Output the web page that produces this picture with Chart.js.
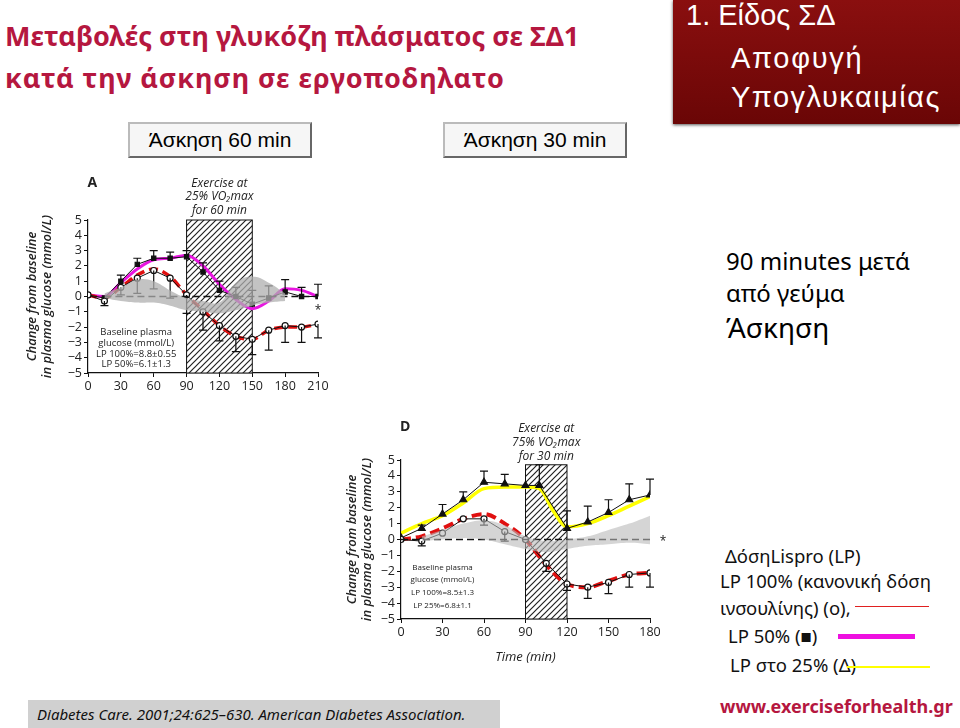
<!DOCTYPE html>
<html>
<head>
<meta charset="utf-8">
<script src="https://cdn.jsdelivr.net/npm/chart.js@4.4.1/dist/chart.umd.min.js"></script>
<style>
  body { margin:0; width:960px; height:728px; position:relative; background:#fff; overflow:hidden; font-family:"Noto Sans", sans-serif; }
  .t { position:absolute; white-space:nowrap; line-height:1; }
  .title { color:#b5173f; font-weight:bold; font-size:27px; left:5px; }
  .btn { position:absolute; top:122px; width:180px; height:32px; border:2px outset #bbb; background:#f6f6f6;
         font-family:"Liberation Sans", Arial, sans-serif; font-size:21px; display:flex; align-items:center; justify-content:center; }
  .redbox { position:absolute; left:673px; top:0; width:287px; height:124px; background:linear-gradient(#8a0f0f,#6a0606); box-shadow:0 1px 3px #555; }
  .rb { color:#fff; font-family:"Liberation Sans", Arial, sans-serif; font-size:29px; }
  .leg { font-size:18.5px; color:#111; }
  .box { position:absolute; }
</style>
</head>
<body>
<div class="t title" style="top:22px">Μεταβολές στη γλυκόζη πλάσματος σε ΣΔ1</div>
<div class="t title" style="top:64px; letter-spacing:0.9px">κατά την άσκηση σε εργοποδηλατο</div>
<div class="btn" style="left:128px">Άσκηση 60 min</div>
<div class="btn" style="left:443px">Άσκηση 30 min</div>
<div class="redbox"></div>
<div class="t rb" style="left:686px; top:1px">1. Είδος ΣΔ</div>
<div class="t rb" style="left:731px; top:44px; letter-spacing:1.7px">Αποφυγή</div>
<div class="t rb" style="left:731px; top:83px; letter-spacing:1.5px">Υπογλυκαιμίας</div>
<div class="t" style="left:726px; top:249px; font-size:24px">90 minutes μετά</div>
<div class="t" style="left:726px; top:281px; font-size:24px">από γεύμα</div>
<div class="t" style="left:726px; top:313px; font-size:28px">Άσκηση</div>

<div class="t leg" style="left:725px; top:547px">ΔόσηLispro (LP)</div>
<div class="t leg" style="left:720px; top:572px">LP 100% (κανονική δόση</div>
<div class="t leg" style="left:720px; top:599px">ινσουλίνης) (ο),</div>
<div class="box" style="left:855px; top:606px; width:74px; height:1px; background:#e02020"></div>
<div class="t leg" style="left:728px; top:627px">LP 50% (■)</div>
<div class="box" style="left:838px; top:634px; width:77px; height:5px; background:#ee10e0"></div>
<div class="t leg" style="left:730px; top:656px">LP στο 25% (Δ)</div>
<div class="box" style="left:847px; top:666px; width:83px; height:2px; background:#ffff00"></div>
<div class="t" style="left:720px; top:697px; font-size:18px; font-weight:bold; color:#b5173f">www.exerciseforhealth.gr</div>

<div class="box" style="left:28px; top:700px; width:472px; height:28px; background:#d0d0d0"></div>
<div class="t" style="left:37px; top:707px; font-size:15px; font-style:italic; color:#111">Diabetes Care. 2001;24:625–630. American Diabetes Association.</div>

<div class="box" style="left:20px; top:170px; width:320px; height:235px"><canvas id="chartA"></canvas></div>
<div class="box" style="left:340px; top:410px; width:330px; height:260px"><canvas id="chartD"></canvas></div>

<script>
// ---- panel A: exercise 25% VO2max for 60 min ----
var timesA = [0, 15, 30, 45, 60, 75, 90, 105, 120, 135, 150, 165, 180, 195, 210];
var lp100A = [0.1, -0.3, 0.6, 1.2, 1.7, 1.2, 0.1, -1.0, -1.9, -2.6, -2.8, -2.2, -1.9, -2.0, -1.8];
var lp100AErr = [0, 0.3, 0.5, 1.0, 1.2, 1.3, 1.2, 1.2, 1.0, 1.0, 1.0, 1.3, 1.1, 1.0, 0.9];
var lp100ACurve = [0.1, -0.1, 0.6, 1.4, 1.8, 1.3, 0.1, -0.9, -1.9, -2.6, -2.8, -2.2, -2.0, -2.0, -1.8];
var lp50A = [0.1, -0.1, 1.0, 2.1, 2.5, 2.5, 2.6, 1.6, 0.4, 0.0, -0.5, -0.1, 0.3, 0.0, 0.0];
var lp50AErr = [0, 0, 0.4, 0.4, 0.5, 0.4, 0.4, 0.6, 0.6, 0.6, 0.9, 0.8, 0.8, 0.6, 0.8];
var lp50ACurve = [0.1, 0.0, 0.9, 1.8, 2.4, 2.5, 2.7, 2.0, 0.8, -0.2, -0.8, -0.3, 0.5, 0.4, 0.0];
var bandTimesA = [15, 30, 45, 60, 75, 90, 105, 120, 135, 150, 165, 180];
var bandHighA = [0.2, 0.6, 1.1, 1.0, 0.4, -0.1, -0.3, -0.4, 0.9, 1.3, 0.9, 0.2];
var bandLowA = [-0.1, -0.3, -0.4, -0.4, -0.6, -0.9, -1.0, -1.1, -0.9, -0.6, -0.4, -0.3];
var zeroA = [15, 210];
var exerciseA = [90, 150, 5];

// ---- panel D: exercise 75% VO2max for 30 min ----
var timesD = [0, 15, 30, 45, 60, 75, 90, 105, 120, 135, 150, 165, 180];
var lp100D = [0.0, -0.1, 0.4, 1.3, 1.3, 0.5, 0.0, -1.5, -2.8, -3.0, -2.7, -2.2, -2.1];
var lp100DErr = [0, 0.3, 0, 0, 0.4, 0.6, 0, 0.5, 0.4, 0.7, 0.7, 0.8, 0.9];
var lp100DCurve = [0.0, 0.2, 0.7, 1.3, 1.6, 1.0, 0.0, -1.6, -2.8, -3.0, -2.6, -2.2, -2.1];
var times25D = [0, 15, 30, 45, 60, 75, 90, 100, 120, 135, 150, 165, 180];
var lp25D = [0.1, 0.7, 1.6, 2.5, 3.6, 3.5, 3.4, 3.4, 0.7, 1.1, 1.7, 2.5, 2.8];
var lp25DErr = [0, 0.2, 0.6, 0.5, 0.7, 0.6, 0, 1.3, 1.1, 1.0, 0.8, 1.0, 1.0];
var curveTimes25D = [0, 15, 30, 45, 60, 75, 90, 100, 110, 120, 135, 150, 165, 180];
var lp25DCurve = [0.4, 1.0, 1.5, 2.3, 3.2, 3.3, 3.3, 3.2, 1.8, 0.8, 1.0, 1.5, 2.1, 2.7];
var bandTimesD = [15, 30, 45, 60, 75, 90, 105, 120, 135, 150, 165, 180];
var bandHighD = [0.2, 0.6, 1.0, 1.2, 0.9, 0.2, -0.1, 0.0, 0.2, 0.6, 1.0, 1.5];
var bandLowD = [-0.1, 0.0, 0.1, 0.0, -0.3, -0.6, -0.8, -0.6, -0.4, -0.3, -0.2, -0.3];
var zeroD = [0, 180];
var exerciseD = [90, 120, 4.7];

var yTicks = [-5, -4, -3, -2, -1, 0, 1, 2, 3, 4, 5];
var yTitle = ['Change from baseline', 'in plasma glucose (mmol/L)'];

function pts(xs, ys) {
  return xs.map(function (x, i) { return { x: x, y: ys[i] }; });
}

function hatchPattern(ctx) {
  var c = document.createElement('canvas');
  c.width = 6; c.height = 6;
  var g = c.getContext('2d');
  g.fillStyle = '#fff';
  g.fillRect(0, 0, 6, 6);
  g.strokeStyle = '#222';
  g.lineWidth = 1.2;
  g.beginPath();
  g.moveTo(0, 6); g.lineTo(6, 0);
  g.moveTo(-1, 1); g.lineTo(1, -1);
  g.moveTo(5, 7); g.lineTo(7, 5);
  g.stroke();
  return ctx.createPattern(c, 'repeat');
}

// hatched exercise window, drawn behind the data
function exercisePlugin(win) {
  return {
    id: 'exercise',
    beforeDatasetsDraw: function (chart) {
      var ctx = chart.ctx, x = chart.scales.x, y = chart.scales.y;
      var l = x.getPixelForValue(win[0]), r = x.getPixelForValue(win[1]);
      var t = y.getPixelForValue(win[2]), b = y.getPixelForValue(-5);
      ctx.save();
      ctx.fillStyle = hatchPattern(ctx);
      ctx.fillRect(l, t, r - l, b - t);
      ctx.strokeStyle = '#111';
      ctx.lineWidth = 1;
      ctx.strokeRect(l, t, r - l, b - t);
      ctx.restore();
    }
  };
}

// half error bars (up or down) for datasets that carry err
var errorPlugin = {
  id: 'errbars',
  afterDatasetDraw: function (chart, args) {
    var ds = chart.data.datasets[args.index];
    if (!ds.err) return;
    var ctx = chart.ctx, y = chart.scales.y;
    ctx.save();
    ctx.strokeStyle = '#111';
    ctx.lineWidth = 1.2;
    args.meta.data.forEach(function (p, i) {
      var e = ds.err[i];
      if (!e) return;
      var v = ds.data[i].y + ds.errDir * e;
      var py = y.getPixelForValue(v);
      ctx.beginPath();
      ctx.moveTo(p.x, p.y); ctx.lineTo(p.x, py);
      ctx.moveTo(p.x - 4, py); ctx.lineTo(p.x + 4, py);
      ctx.stroke();
    });
    ctx.restore();
  }
};

function notesPlugin(notes) {
  return {
    id: 'notes',
    afterDatasetsDraw: function (chart) {
      var ctx = chart.ctx, x = chart.scales.x, y = chart.scales.y;
      notes.forEach(function (n) {
        ctx.save();
        ctx.font = n.font;
        ctx.fillStyle = '#222';
        ctx.textAlign = 'center';
        ctx.textBaseline = 'middle';
        var px = n.right ? chart.chartArea.right + n.x : x.getPixelForValue(n.x);
        ctx.fillText(n.text, px, y.getPixelForValue(n.y));
        ctx.restore();
      });
    }
  };
}

function band(xs, hi, lo, color) {
  return [
    { data: pts(xs, hi), borderWidth: 0, pointRadius: 0, backgroundColor: color, fill: '+1', tension: 0.4 },
    { data: pts(xs, lo), borderWidth: 0, pointRadius: 0, fill: false, tension: 0.4 }
  ];
}

function zeroLine(xs) {
  return { data: [{ x: xs[0], y: 0 }, { x: xs[1], y: 0 }], borderColor: '#111', borderWidth: 1.6, borderDash: [7, 4], pointRadius: 0 };
}

function marks(xs, ys, err, dir, style, fillCol) {
  return {
    data: pts(xs, ys), err: err, errDir: dir,
    borderColor: '#111', borderWidth: 1, pointStyle: style, pointRadius: style === 'triangle' ? 4 : 3,
    pointBackgroundColor: fillCol, pointBorderColor: '#111', pointBorderWidth: 1.2, tension: 0
  };
}

function curve(xs, ys, color, width, dash) {
  return {
    data: pts(xs, ys), borderColor: color, borderWidth: width, borderDash: dash || [],
    pointRadius: 0, tension: 0.4, cubicInterpolationMode: 'monotone'
  };
}

function axes(xMax, xTitle, yWidth, xHeight) {
  var tickFont = { family: 'Open Sans', size: 12.5 };
  return {
    x: {
      type: 'linear', min: 0, max: xMax,
      ticks: { stepSize: 30, color: '#222', font: tickFont, padding: 2 },
      grid: { drawOnChartArea: false, drawTicks: true, tickLength: 4, color: '#111' },
      border: { color: '#111', width: 1.2 },
      title: { display: !!xTitle, text: xTitle, color: '#222', font: { family: 'Open Sans', size: 13, style: 'italic' }, padding: { top: 2, bottom: 5 } },
      afterFit: function (s) { s.height = xHeight; }
    },
    y: {
      min: -5, max: 5,
      afterBuildTicks: function (s) { s.ticks = yTicks.map(function (v) { return { value: v }; }); },
      ticks: { color: '#222', font: tickFont, padding: 2, autoSkip: false,
        callback: function (v) { return v < 0 ? '\u2212' + Math.abs(v) : v; } },
      grid: { drawOnChartArea: false, drawTicks: true, tickLength: 4, color: '#111' },
      border: { color: '#111', width: 1.2 },
      title: { display: true, text: yTitle, color: '#222', font: { family: 'Open Sans', size: 13, style: 'italic', weight: '600' }, padding: 4, lineHeight: 1.25 },
      afterFit: function (s) { s.width = yWidth; }
    }
  };
}

var noteFont = 'italic 12px "Open Sans"';
var smallFont = '9.5px "Open Sans"';
var smallFontD = '8px "Open Sans"';

new Chart(document.getElementById('chartA'), {
  type: 'line',
  data: {
    datasets: [].concat(
      band(bandTimesA, bandHighA, bandLowA, 'rgba(175,175,175,0.75)'),
      [zeroLine(zeroA),
       marks(timesA, lp100A, lp100AErr, -1, 'circle', '#fff'),
       marks(timesA, lp50A, lp50AErr, 1, 'rect', '#111'),
       curve(timesA, lp100ACurve, '#e01010', 3.5, [9, 5]),
       curve(timesA, lp50ACurve, '#e815e0', 3)]
    )
  },
  options: {
    responsive: true, maintainAspectRatio: false, animation: false,
    layout: { padding: { top: 50, right: 22, left: 0, bottom: 0 } },
    plugins: { legend: { display: false }, tooltip: { enabled: false } },
    scales: axes(210, '', 68, 32)
  },
  plugins: [exercisePlugin(exerciseA), errorPlugin, notesPlugin([
    { text: 'A', x: 4, y: 7.4, font: 'bold 14px "Open Sans"' },
    { text: 'Exercise at', x: 120, y: 7.4, font: noteFont },
    { text: '25% VO\u2082max', x: 120, y: 6.5, font: noteFont },
    { text: 'for 60 min', x: 120, y: 5.6, font: noteFont },
    { text: 'Baseline plasma', x: 44, y: -2.35, font: smallFont },
    { text: 'glucose (mmol/L)', x: 44, y: -3.05, font: smallFont },
    { text: 'LP 100%=8.8\u00b10.55', x: 44, y: -3.75, font: smallFont },
    { text: 'LP 50%=6.1\u00b11.3', x: 44, y: -4.45, font: smallFont },
    { text: '*', x: 210, y: -0.95, font: '12px "Open Sans"' }
  ])]
});

new Chart(document.getElementById('chartD'), {
  type: 'line',
  data: {
    datasets: [].concat(
      band(bandTimesD, bandHighD, bandLowD, 'rgba(185,185,185,0.6)'),
      [zeroLine(zeroD),
       marks(timesD, lp100D, lp100DErr, -1, 'circle', '#fff'),
       marks(times25D, lp25D, lp25DErr, 1, 'triangle', '#111'),
       curve(curveTimes25D, lp25DCurve, '#ffff00', 3.5),
       curve(timesD, lp100DCurve, '#e01010', 4, [10, 5])]
    )
  },
  options: {
    responsive: true, maintainAspectRatio: false, animation: false,
    layout: { padding: { top: 50, right: 20, left: 0, bottom: 0 } },
    plugins: { legend: { display: false }, tooltip: { enabled: false } },
    scales: axes(180, 'Time (min)', 61, 51)
  },
  plugins: [exercisePlugin(exerciseD), errorPlugin, notesPlugin([
    { text: 'D', x: 3, y: 7.1, font: 'bold 14px "Open Sans"' },
    { text: 'Exercise at', x: 105, y: 7.0, font: noteFont },
    { text: '75% VO\u2082max', x: 105, y: 6.1, font: noteFont },
    { text: 'for 30 min', x: 105, y: 5.2, font: noteFont },
    { text: 'Baseline plasma', x: 30, y: -1.75, font: smallFontD },
    { text: 'glucose (mmol/L)', x: 30, y: -2.55, font: smallFontD },
    { text: 'LP 100%=8.5\u00b11.3', x: 30, y: -3.35, font: smallFontD },
    { text: 'LP 25%=6.8\u00b11.1', x: 30, y: -4.15, font: smallFontD },
    { text: '*', x: 13, y: -0.1, font: '12px "Open Sans"', right: true }
  ])]
});
</script>
</body>
</html>
